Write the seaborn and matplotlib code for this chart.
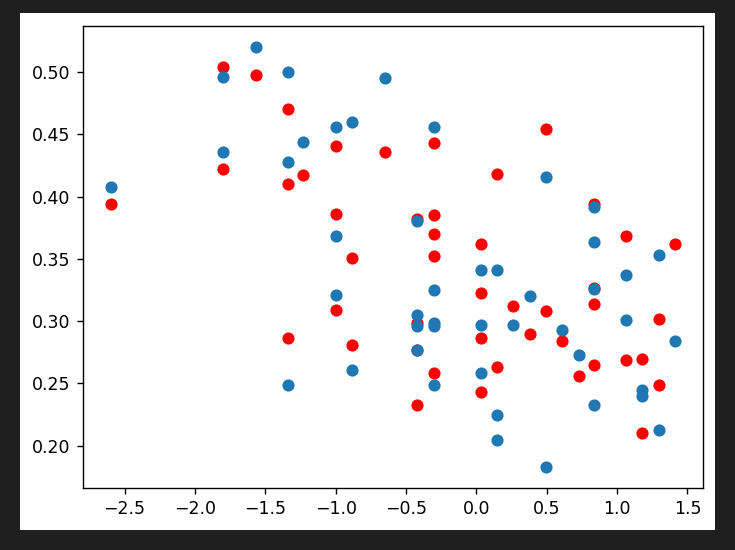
import numpy as np
import matplotlib
matplotlib.use("Agg")
import matplotlib.pyplot as plt
import seaborn as sns
from matplotlib.patches import Rectangle

# pontos vermelhos
x_red = [-2.597, -1.800, -1.800, -1.566, -1.336, -1.336, -1.336, -1.229,
         -0.999, -0.999, -0.999, -0.883, -0.883, -0.651,
         -0.420, -0.420, -0.420, -0.420,
         -0.302, -0.302, -0.302, -0.302, -0.302,
         0.035, 0.035, 0.035, 0.035, 0.149, 0.149, 0.262, 0.381,
         0.494, 0.494, 0.611, 0.727,
         0.834, 0.834, 0.834, 0.834, 1.063, 1.063, 1.180, 1.180,
         1.298, 1.298, 1.412]
y_red = [0.394, 0.504, 0.422, 0.4975, 0.470, 0.410, 0.286, 0.417,
         0.441, 0.386, 0.3086, 0.351, 0.2805, 0.436,
         0.382, 0.2984, 0.2768, 0.2324,
         0.443, 0.385, 0.370, 0.352, 0.2586,
         0.362, 0.3225, 0.2864, 0.2434, 0.4178, 0.263, 0.3118, 0.2896,
         0.4539, 0.3078, 0.2837, 0.2562,
         0.3944, 0.3265, 0.3137, 0.2645, 0.368, 0.269, 0.2699, 0.2103,
         0.3016, 0.2485, 0.362]

# pontos azuis
x_blue = [-2.597, -1.800, -1.800, -1.566, -1.336, -1.336, -1.336, -1.229,
          -0.999, -0.999, -0.999, -0.883, -0.883, -0.651,
          -0.420, -0.420, -0.420, -0.420,
          -0.302, -0.302, -0.302, -0.302, -0.302,
          0.035, 0.035, 0.035, 0.149, 0.149, 0.149, 0.262, 0.381,
          0.494, 0.494, 0.611, 0.727,
          0.834, 0.834, 0.834, 0.834, 1.063, 1.063, 1.180, 1.180,
          1.298, 1.298, 1.412]
y_blue = [0.408, 0.4964, 0.436, 0.5204, 0.500, 0.428, 0.2485, 0.444,
          0.456, 0.368, 0.321, 0.460, 0.2605, 0.4954,
          0.3806, 0.305, 0.2963, 0.2765,
          0.456, 0.3246, 0.2984, 0.2963, 0.2485,
          0.3407, 0.2966, 0.2583, 0.3407, 0.2244, 0.2044, 0.2966, 0.3198,
          0.416, 0.183, 0.2926, 0.2725,
          0.392, 0.3639, 0.3254, 0.2324, 0.3369, 0.3008, 0.245, 0.240,
          0.3527, 0.2124, 0.2837]

fig = plt.figure(figsize=(5.88, 4.4), dpi=125, facecolor='#1f1f1f')
# fundo branco da figura dentro da moldura escura
fig.patches.append(Rectangle((20 / 735, 20 / 550), 695 / 735, 517 / 550,
                             transform=fig.transFigure, facecolor='white',
                             edgecolor='none', zorder=-10))

ax = fig.add_axes([82.7 / 735, 1 - 487.7 / 550, (703.3 - 82.7) / 735, (487.7 - 25.7) / 550])

sns.scatterplot(x=np.array(x_red), y=np.array(y_red), color='red', s=36,
                edgecolor='face', linewidth=1.0, ax=ax)
sns.scatterplot(x=np.array(x_blue), y=np.array(y_blue), color='#1f77b4', s=36,
                edgecolor='face', linewidth=1.0, ax=ax)

ax.set_yticks([0.20, 0.25, 0.30, 0.35, 0.40, 0.45, 0.50])
ax.set_xticks([-2.5, -2.0, -1.5, -1.0, -0.5, 0.0, 0.5, 1.0, 1.5])

fig.savefig('out.png', dpi=125, facecolor=fig.get_facecolor())
